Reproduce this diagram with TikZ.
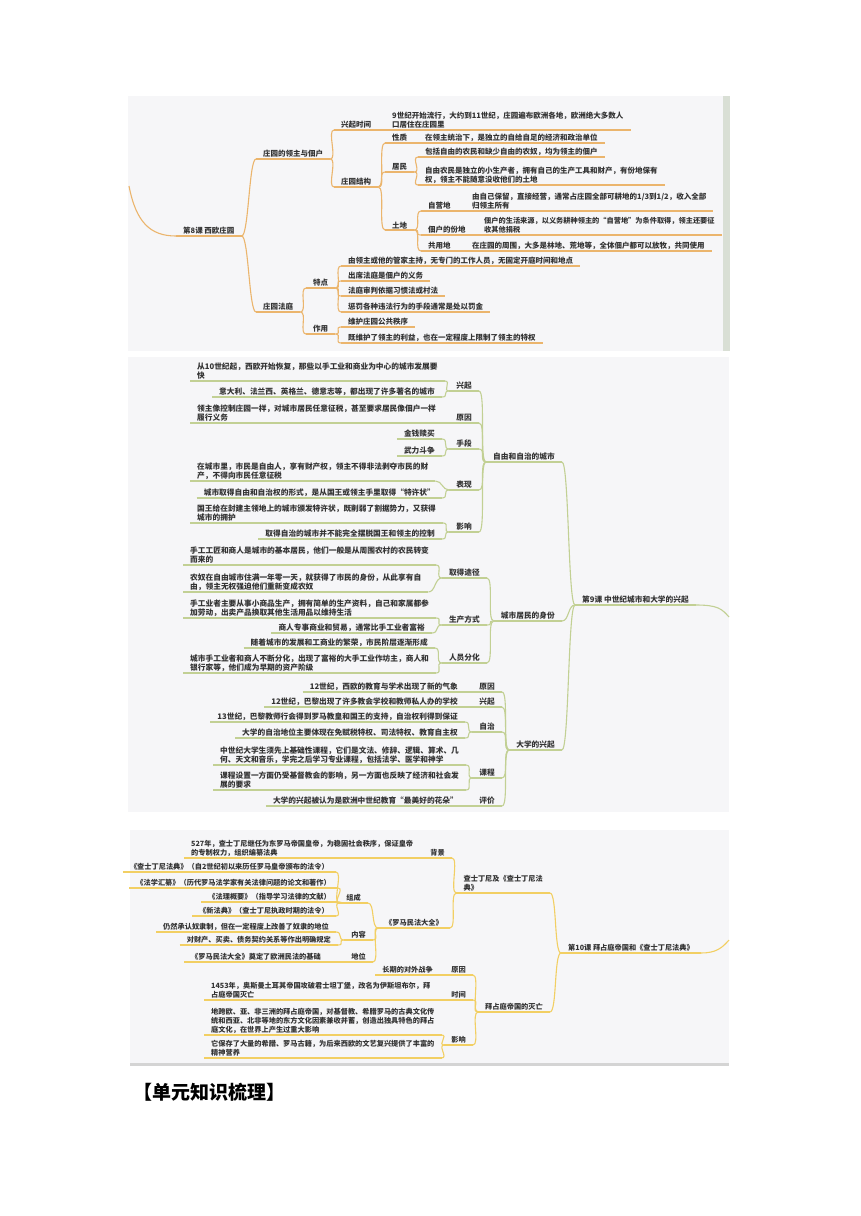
\documentclass[tikz,border=0pt]{standalone}
\usepackage{fontspec}
\setmainfont{Noto Sans CJK SC}
\definecolor{paper}{HTML}{F6F6F8}
\definecolor{rim}{HTML}{D9DFD5}
\definecolor{txt}{HTML}{333333}
\definecolor{orl}{HTML}{EBB56D}
\definecolor{grl}{HTML}{C2D094}
\definecolor{yel}{HTML}{F2CF63}
\tikzset{
  link/.style={line width=1.1pt},
  topic/.style={inner xsep=7pt, inner ysep=1.2pt, text=txt, align=left,
    font=\bfseries\fontsize{7.5}{9}\selectfont,
    append after command={(\tikzlastnode.south west) edge[link] (\tikzlastnode.south east)}},
  lt/.style={topic, anchor=south west},
  rt/.style={topic, anchor=south east},
  brr/.style={to path={.. controls +(7,0) and +(-7,0) .. (\tikztotarget)}},
  brl/.style={to path={.. controls +(-7,0) and +(7,0) .. (\tikztotarget)}},
}
\begin{document}
\begin{tikzpicture}[x=1pt,y=-1pt]
  \useasboundingbox (0,0) rectangle (860,1216);
  % lesson 8
  \begin{scope}[link/.append style={draw=orl}]
    \fill[paper] (128,96) rectangle (723,351);
    \fill[rim] (723,96) rectangle (730,351);
    \coordinate (in8) at (129,186);
    \node[lt] (r8) at (176,236) {第8课 西欧庄园};
    \node[lt] (a1) at (256,159) {庄园的领主与佃户};
    \node[lt] (a11) at (334,130) {兴起时间};
    \node[lt] (a11x) at (385,130) {9世纪开始流行，大约到11世纪，庄园遍布欧洲各地，欧洲绝大多数人\\口居住在庄园里};
    \node[lt] (a12) at (334,187) {庄园结构};
    \node[lt] (a121) at (385,143) {性质};
    \node[lt] (a121x) at (418,143) {在领主统治下，是独立的自给自足的经济和政治单位};
    \node[lt] (a122) at (385,172) {居民};
    \node[lt] (a1221) at (418,157) {包括自由的农民和缺少自由的农奴，均为领主的佃户};
    \node[lt] (a1222) at (418,185) {自由农民是独立的小生产者，拥有自己的生产工具和财产，有份地保有\\权，领主不能随意没收他们的土地};
    \node[lt] (a123) at (385,230) {土地};
    \node[lt] (a1231) at (421,211) {自营地};
    \node[lt] (a1231x) at (465,211) {由自己保留，直接经营，通常占庄园全部可耕地的1/3到1/2，收入全部\\归领主所有};
    \node[lt] (a1232) at (421,235) {佃户的份地};
    \node[lt, font=\bfseries\fontsize{7.2}{9}\selectfont] (a1232x) at (477,235) {佃户的生活来源，以义务耕种领主的“自营地”为条件取得，领主还要征\\收其他捐税};
    \node[lt] (a1233) at (421,251) {共用地};
    \node[lt] (a1233x) at (465,251) {在庄园的周围，大多是林地、荒地等，全体佃户都可以放牧，共同使用};
    \node[lt] (a2) at (256,312) {庄园法庭};
    \node[lt] (a21) at (306,288) {特点};
    \node[lt] (a211) at (341,266) {由领主或他的管家主持，无专门的工作人员，无固定开庭时间和地点};
    \node[lt] (a212) at (341,281) {出席法庭是佃户的义务};
    \node[lt] (a213) at (341,296) {法庭审判依据习惯法或村法};
    \node[lt] (a214) at (341,312) {惩罚各种违法行为的手段通常是处以罚金};
    \node[lt] (a22) at (306,334) {作用};
    \node[lt] (a221) at (341,327) {维护庄园公共秩序};
    \node[lt] (a222) at (341,343) {既维护了领主的利益，也在一定程度上限制了领主的特权};
    \draw[link] (in8) .. controls (136,222) and (150,236) .. (r8.south west);
    \draw[link] (r8.south east) to[brr] (a1.south west);
    \draw[link] (r8.south east) to[brr] (a2.south west);
    \draw[link] (a1.south east) to[brr] (a11.south west);
    \draw[link] (a1.south east) to[brr] (a12.south west);
    \draw[link] (a11.south east) to[brr] (a11x.south west);
    \draw[link] (a12.south east) to[brr] (a121.south west);
    \draw[link] (a12.south east) to[brr] (a122.south west);
    \draw[link] (a12.south east) to[brr] (a123.south west);
    \draw[link] (a121.south east) to[brr] (a121x.south west);
    \draw[link] (a122.south east) to[brr] (a1221.south west);
    \draw[link] (a122.south east) to[brr] (a1222.south west);
    \draw[link] (a123.south east) to[brr] (a1231.south west);
    \draw[link] (a123.south east) to[brr] (a1232.south west);
    \draw[link] (a123.south east) to[brr] (a1233.south west);
    \draw[link] (a1231.south east) to[brr] (a1231x.south west);
    \draw[link] (a1232.south east) to[brr] (a1232x.south west);
    \draw[link] (a1233.south east) to[brr] (a1233x.south west);
    \draw[link] (a2.south east) to[brr] (a21.south west);
    \draw[link] (a2.south east) to[brr] (a22.south west);
    \draw[link] (a21.south east) to[brr] (a211.south west);
    \draw[link] (a21.south east) to[brr] (a212.south west);
    \draw[link] (a21.south east) to[brr] (a213.south west);
    \draw[link] (a21.south east) to[brr] (a214.south west);
    \draw[link] (a22.south east) to[brr] (a221.south west);
    \draw[link] (a22.south east) to[brr] (a222.south west);
  \end{scope}
  % lesson 9
  \begin{scope}[link/.append style={draw=grl}, topic/.append style={font=\bfseries\fontsize{7.7}{9.3}\selectfont}]
    \fill[paper] (128,357) rectangle (729,812);
    \coordinate (out9) at (729,617);
    \node[lt] (r9) at (575,605) {第9课 中世纪城市和大学的兴起};
    \node[rt] (b1) at (562,462) {自由和自治的城市};
    \node[rt] (b11) at (479,391) {兴起};
    \node[lt] (b111) at (190,381) {从10世纪起，西欧开始恢复，那些以手工业和商业为中心的城市发展要\\快};
    \node[rt] (b112) at (442,397) {意大利、法兰西、英格兰、德意志等，都出现了许多著名的城市};
    \node[rt] (b12) at (479,423) {原因};
    \node[lt] (b121) at (190,423) {领主像控制庄园一样，对城市居民任意征税，甚至要求居民像佃户一样\\履行义务};
    \node[rt] (b13) at (479,449) {手段};
    \node[rt] (b131) at (442,439) {金钱赎买};
    \node[rt] (b132) at (442,456) {武力斗争};
    \node[rt] (b14) at (479,490) {表现};
    \node[lt] (b141) at (190,481) {在城市里，市民是自由人，享有财产权，领主不得非法剥夺市民的财\\产，不得向市民任意征税};
    \node[rt] (b142) at (442,498) {城市取得自由和自治权的形式，是从国王或领主手里取得“特许状”};
    \node[rt] (b15) at (479,532) {影响};
    \node[lt] (b151) at (190,523) {国王给在封建主领地上的城市颁发特许状，既削弱了割据势力，又获得\\城市的拥护};
    \node[rt] (b152) at (442,539) {取得自治的城市并不能完全摆脱国王和领主的控制};
    \node[rt] (b2) at (562,621) {城市居民的身份};
    \node[rt] (b21) at (487,578) {取得途径};
    \node[lt] (b211) at (183,565) {手工工匠和商人是城市的基本居民，他们一般是从周围农村的农民转变\\而来的};
    \node[lt] (b212) at (183,592) {农奴在自由城市住满一年零一天，就获得了市民的身份，从此享有自\\由，领主无权强迫他们重新变成农奴};
    \node[rt] (b22) at (487,625) {生产方式};
    \node[lt] (b221) at (183,618) {手工业者主要从事小商品生产，拥有简单的生产资料，自己和家属都参\\加劳动，出卖产品换取其他生活用品以维持生活};
    \node[rt] (b222) at (432,633) {商人专事商业和贸易，通常比手工业者富裕};
    \node[rt] (b23) at (487,663) {人员分化};
    \node[rt] (b231) at (435,648) {随着城市的发展和工商业的繁荣，市民阶层逐渐形成};
    \node[lt] (b232) at (183,673) {城市手工业者和商人不断分化，出现了富裕的大手工业作坊主，商人和\\银行家等，他们成为早期的资产阶级};
    \node[rt] (b3) at (562,750) {大学的兴起};
    \node[rt] (b31) at (502,692) {原因};
    \node[rt] (b311) at (465,692) {12世纪，西欧的教育与学术出现了新的气象};
    \node[rt] (b32) at (502,707) {兴起};
    \node[rt] (b321) at (465,707) {12世纪，巴黎出现了许多教会学校和教师私人办的学校};
    \node[rt] (b33) at (502,732) {自治};
    \node[rt] (b331) at (465,722) {13世纪，巴黎教师行会得到罗马教皇和国王的支持，自治权利得到保证};
    \node[rt] (b332) at (465,738) {大学的自治地位主要体现在免赋税特权、司法特权、教育自主权};
    \node[rt] (b34) at (502,778) {课程};
    \node[lt] (b341) at (213,765) {中世纪大学生须先上基础性课程，它们是文法、修辞、逻辑、算术、几\\何、天文和音乐，学完之后学习专业课程，包括法学、医学和神学};
    \node[lt] (b342) at (213,790) {课程设置一方面仍受基督教会的影响，另一方面也反映了经济和社会发\\展的要求};
    \node[rt] (b35) at (502,806) {评价};
    \node[rt] (b351) at (465,806) {大学的兴起被认为是欧洲中世纪教育“最美好的花朵”};
    \draw[link] (r9.south east) .. controls (718,605) and (722,609) .. (out9);
    \draw[link] (r9.south west) to[brl] (b1.south east);
    \draw[link] (r9.south west) to[brl] (b2.south east);
    \draw[link] (r9.south west) to[brl] (b3.south east);
    \draw[link] (b1.south west) to[brl] (b11.south east);
    \draw[link] (b1.south west) to[brl] (b12.south east);
    \draw[link] (b1.south west) to[brl] (b13.south east);
    \draw[link] (b1.south west) to[brl] (b14.south east);
    \draw[link] (b1.south west) to[brl] (b15.south east);
    \draw[link] (b11.south west) to[brl] (b111.south east);
    \draw[link] (b11.south west) to[brl] (b112.south east);
    \draw[link] (b12.south west) to[brl] (b121.south east);
    \draw[link] (b13.south west) to[brl] (b131.south east);
    \draw[link] (b13.south west) to[brl] (b132.south east);
    \draw[link] (b14.south west) to[brl] (b141.south east);
    \draw[link] (b14.south west) to[brl] (b142.south east);
    \draw[link] (b15.south west) to[brl] (b151.south east);
    \draw[link] (b15.south west) to[brl] (b152.south east);
    \draw[link] (b2.south west) to[brl] (b21.south east);
    \draw[link] (b2.south west) to[brl] (b22.south east);
    \draw[link] (b2.south west) to[brl] (b23.south east);
    \draw[link] (b21.south west) to[brl] (b211.south east);
    \draw[link] (b21.south west) to[brl] (b212.south east);
    \draw[link] (b22.south west) to[brl] (b221.south east);
    \draw[link] (b22.south west) to[brl] (b222.south east);
    \draw[link] (b23.south west) to[brl] (b231.south east);
    \draw[link] (b23.south west) to[brl] (b232.south east);
    \draw[link] (b3.south west) to[brl] (b31.south east);
    \draw[link] (b3.south west) to[brl] (b32.south east);
    \draw[link] (b3.south west) to[brl] (b33.south east);
    \draw[link] (b3.south west) to[brl] (b34.south east);
    \draw[link] (b3.south west) to[brl] (b35.south east);
    \draw[link] (b31.south west) to[brl] (b311.south east);
    \draw[link] (b32.south west) to[brl] (b321.south east);
    \draw[link] (b33.south west) to[brl] (b331.south east);
    \draw[link] (b33.south west) to[brl] (b332.south east);
    \draw[link] (b34.south west) to[brl] (b341.south east);
    \draw[link] (b34.south west) to[brl] (b342.south east);
    \draw[link] (b35.south west) to[brl] (b351.south east);
  \end{scope}
  % lesson 10
  \begin{scope}[link/.append style={draw=yel}, topic/.append style={font=\bfseries\fontsize{7.2}{9}\selectfont}]
    \fill[paper] (130,830) rectangle (729,1063);
    \fill[black!17] (130,1063) rectangle (729,1066);
    \coordinate (out10) at (729,940);
    \node[lt] (r10) at (561,953) {第10课 拜占庭帝国和《查士丁尼法典》};
    \node[rt] (c1) at (550,893) {查士丁尼及《查士丁尼法\\典》};
    \node[rt] (c11) at (452,858) {背景};
    \node[lt] (c111) at (184,858) {527年，查士丁尼继任为东罗马帝国皇帝，为稳固社会秩序，保证皇帝\\的专制权力，组织编纂法典};
    \node[rt] (c12) at (450,928) {《罗马民法大全》};
    \node[rt] (c121) at (368,903) {组成};
    \node[rt] (c1211) at (336,872) {《查士丁尼法典》（自2世纪初以来历任罗马皇帝颁布的法令）};
    \node[rt] (c1212) at (338,888) {《法学汇纂》（历代罗马法学家有关法律问题的论文和著作）};
    \node[rt] (c1213) at (338,902) {《法理概要》（指导学习法律的文献）};
    \node[rt] (c1214) at (336,916) {《新法典》（查士丁尼执政时期的法令）};
    \node[rt] (c122) at (373,940) {内容};
    \node[rt] (c1221) at (336,932) {仍然承认奴隶制，但在一定程度上改善了奴隶的地位};
    \node[rt] (c1222) at (338,945) {对财产、买卖、债务契约关系等作出明确规定};
    \node[rt] (c123) at (373,962) {地位};
    \node[rt] (c1231) at (328,962) {《罗马民法大全》奠定了欧洲民法的基础};
    \node[rt] (c2) at (550,1012) {拜占庭帝国的灭亡};
    \node[rt] (c21) at (473,975) {原因};
    \node[rt] (c211) at (440,975) {长期的对外战争};
    \node[rt] (c22) at (473,1000) {时间};
    \node[lt] (c221) at (204,1000) {1453年，奥斯曼土耳其帝国攻破君士坦丁堡，改名为伊斯坦布尔，拜\\占庭帝国灭亡};
    \node[rt] (c23) at (473,1045) {影响};
    \node[lt] (c231) at (204,1035) {地跨欧、亚、非三洲的拜占庭帝国，对基督教、希腊罗马的古典文化传\\统和西亚、北非等地的东方文化因素兼收并蓄，创造出独具特色的拜占\\庭文化，在世界上产生过重大影响};
    \node[lt] (c232) at (204,1058) {它保存了大量的希腊、罗马古籍，为后来西欧的文艺复兴提供了丰富的\\精神营养};
    \draw[link] (r10.south east) .. controls (716,953) and (722,948) .. (out10);
    \draw[link] (r10.south west) to[brl] (c1.south east);
    \draw[link] (r10.south west) to[brl] (c2.south east);
    \draw[link] (c1.south west) to[brl] (c11.south east);
    \draw[link] (c1.south west) to[brl] (c12.south east);
    \draw[link] (c11.south west) to[brl] (c111.south east);
    \draw[link] (c12.south west) to[brl] (c121.south east);
    \draw[link] (c12.south west) to[brl] (c122.south east);
    \draw[link] (c12.south west) to[brl] (c123.south east);
    \draw[link] (c121.south west) to[brl] (c1211.south east);
    \draw[link] (c121.south west) to[brl] (c1212.south east);
    \draw[link] (c121.south west) to[brl] (c1213.south east);
    \draw[link] (c121.south west) to[brl] (c1214.south east);
    \draw[link] (c122.south west) to[brl] (c1221.south east);
    \draw[link] (c122.south west) to[brl] (c1222.south east);
    \draw[link] (c123.south west) to[brl] (c1231.south east);
    \draw[link] (c2.south west) to[brl] (c21.south east);
    \draw[link] (c2.south west) to[brl] (c22.south east);
    \draw[link] (c2.south west) to[brl] (c23.south east);
    \draw[link] (c21.south west) to[brl] (c211.south east);
    \draw[link] (c22.south west) to[brl] (c221.south east);
    \draw[link] (c23.south west) to[brl] (c231.south east);
    \draw[link] (c23.south west) to[brl] (c232.south east);
  \end{scope}
  \node[anchor=west, inner sep=0pt, font=\bfseries\fontsize{19}{19}\selectfont] (head) at (133,1092) {【单元知识梳理】};
\end{tikzpicture}
\end{document}
